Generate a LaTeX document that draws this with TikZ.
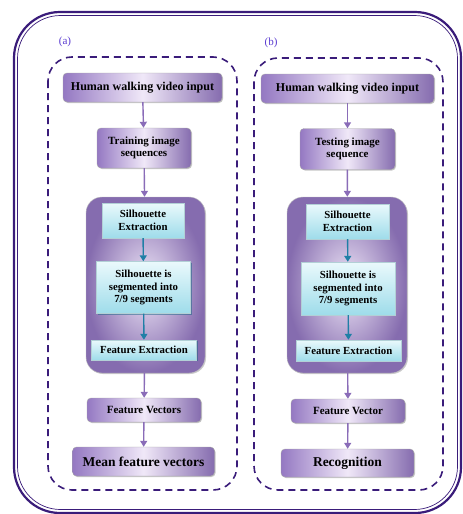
\documentclass[tikz,border=0pt]{standalone}
\usepackage{fontspec}
\setmainfont{Liberation Serif}
\usetikzlibrary{shadows,arrows.meta}

\definecolor{framec}{HTML}{3A1C7A}
\definecolor{labc}{HTML}{5A3BD0}
\definecolor{pdark}{HTML}{9478C2}
\definecolor{plight}{HTML}{F0E8F8}
\definecolor{arrp}{HTML}{8A6CB8}
\definecolor{arrc}{HTML}{1F7FA6}
\definecolor{ctop}{HTML}{EAF9FC}
\definecolor{cbot}{HTML}{9EDCEA}

\tikzset{
  pbox/.style={rounded corners=4pt, draw=black!35, thin,
    left color=pdark, right color=pdark!90!black, middle color=plight,
    drop shadow={shadow xshift=1pt, shadow yshift=-1pt, fill=black!45},
    font=\bfseries\fontsize{11}{12.5}\selectfont, align=center,
    inner sep=0pt},
  cbox/.style={draw=cbot!80!black!60, thin, top color=ctop, bottom color=cbot,
    drop shadow={shadow xshift=1pt, shadow yshift=-1pt, fill=arrc!80!black},
    font=\bfseries\fontsize{10.8}{12.5}\selectfont, align=center, inner sep=0pt},
  holder/.style={rounded corners=16pt, draw=black!25, thin,
    inner color=plight, outer color=pdark!90!black,
    drop shadow={shadow xshift=1pt, shadow yshift=-1pt, fill=black!40},
    inner sep=0pt},
  parr/.style={draw=arrp, line width=1.4pt, -{Triangle[length=6pt,width=7pt]}},
  carr/.style={draw=arrc, line width=1.4pt, -{Triangle[length=6pt,width=7pt]}},
  dbox/.style={draw=framec, line width=1.6pt, dash pattern=on 7pt off 5pt, rounded corners=24pt},
  tag/.style={text=labc, font=\fontsize{11}{12}\selectfont},
  big/.style={font=\bfseries\fontsize{13.5}{15}\selectfont},
  wide/.style={font=\bfseries\fontsize{12}{14}\selectfont}
}

\begin{document}
\begin{tikzpicture}[x=1pt,y=-1pt]
  \useasboundingbox (0,0) rectangle (463,514);
  % outer frame
  \draw[framec, line width=2.2pt, rounded corners=46pt] (14,12) rectangle (461,513);
  \draw[framec, line width=0.7pt, rounded corners=43pt] (17.5,15.5) rectangle (457.5,509.5);

  % the two dashed panels
  \draw[dbox] (48,57) rectangle (237,490);
  \draw[dbox] (254,58) rectangle (443,490);
  \node[tag] (taga) at (65,42) {(a)};
  \node[tag] (tagb) at (271,43) {(b)};

  % (a) training
  \node[pbox, wide, minimum width=159pt, minimum height=29pt] (hina) at (142.5,87.5) {Human walking video input};
  \node[pbox, minimum width=94pt, minimum height=40pt] (train) at (144,148) {Training image\\sequences};
  \node[holder, minimum width=119pt, minimum height=176pt] (proca) at (145.5,285) {};
  \node[cbox, minimum width=82pt, minimum height=35pt] (sila) at (143,220.5) {Silhouette\\Extraction};
  \node[cbox, minimum width=94pt, minimum height=52pt] (sega) at (143.5,287.5) {Silhouette is\\segmented into\\7/9 segments};
  \node[cbox, minimum width=105pt, minimum height=20pt] (fexa) at (144,350) {Feature Extraction};
  \node[pbox, minimum width=114pt, minimum height=24pt] (fva) at (144,410) {Feature Vectors};
  \node[pbox, big, minimum width=142pt, minimum height=29pt] (mean) at (143.5,461.5) {Mean feature vectors};

  % (b) testing
  \node[pbox, wide, minimum width=173pt, minimum height=29pt] (hinb) at (347.5,88.5) {Human walking video input};
  \node[pbox, minimum width=95pt, minimum height=41pt] (test) at (347.5,149) {Testing image\\sequence};
  \node[holder, minimum width=120pt, minimum height=176pt] (procb) at (347,285) {};
  \node[cbox, minimum width=83pt, minimum height=35pt] (silb) at (347.5,221.5) {Silhouette\\Extraction};
  \node[cbox, minimum width=94pt, minimum height=53pt] (segb) at (348,288.5) {Silhouette is\\segmented into\\7/9 segments};
  \node[cbox, minimum width=105pt, minimum height=21pt] (fexb) at (348.5,350.5) {Feature Extraction};
  \node[pbox, minimum width=114pt, minimum height=24pt] (fvb) at (348,411) {Feature Vector};
  \node[pbox, big, minimum width=133pt, minimum height=28pt] (rec) at (347.5,463) {Recognition};

  \draw[parr] (hina) -- (train);
  \draw[parr] (train) -- (proca);
  \draw[carr] (sila) -- (sega);
  \draw[carr] (sega) -- (fexa);
  \draw[parr] (proca) -- (fva);
  \draw[parr] (fva) -- (mean);

  \draw[parr] (hinb) -- (test);
  \draw[parr] (test) -- (procb);
  \draw[carr] (silb) -- (segb);
  \draw[carr] (segb) -- (fexb);
  \draw[parr] (procb) -- (fvb);
  \draw[parr] (fvb) -- (rec);
\end{tikzpicture}
\end{document}
